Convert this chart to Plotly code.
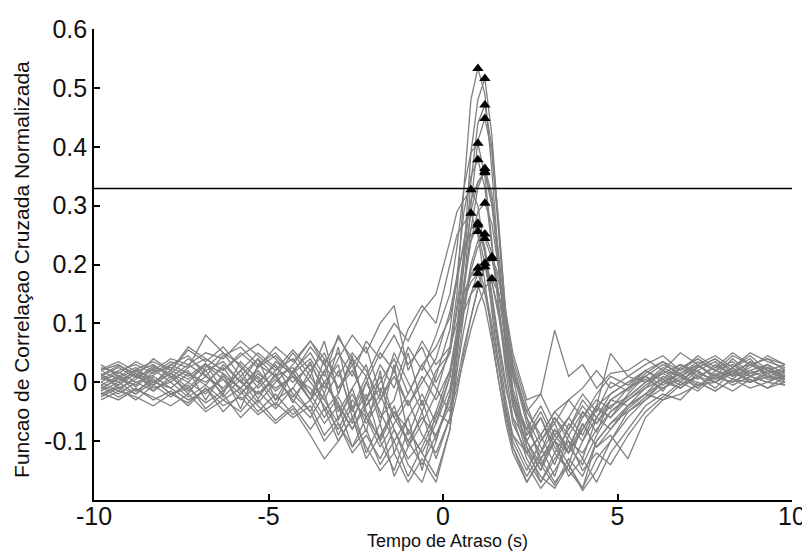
import numpy as np
import plotly.graph_objects as go

# Lag axis (s)
lags = [-9.8, -9.3, -8.8, -8.3, -7.8, -7.3, -6.8, -6.3, -5.8, -5.3, -4.8, -4.3,
        -3.8, -3.4, -3.0, -2.6, -2.2, -1.8, -1.4, -1.0, -0.6, -0.2,
        0.2, 0.4, 0.6, 0.8, 1.0, 1.2, 1.4, 1.6, 1.8, 2.0,
        2.4, 2.8, 3.2, 3.6, 4.0, 4.4, 4.8, 5.3,
        5.8, 6.3, 6.8, 7.3, 7.8, 8.3, 8.8, 9.3, 9.8]

corr_01 = [0.005, 0.012, -0.008, 0.018, 0.025,
           0.010, 0.032, -0.015, 0.020, -0.028, 0.015, -0.035,
           0.022, -0.048, -0.020, 0.045, -0.060, -0.095, -0.040, -0.110, -0.070, -0.020,
           0.060, 0.150, 0.330, 0.480, 0.533, 0.490, 0.360, 0.200, 0.060, -0.040,
           -0.120, -0.090, -0.140, -0.070, -0.100, -0.045, -0.060, -0.020,
           0.010, -0.015, 0.025, 0.005, 0.030, 0.012, 0.035, 0.008, 0.015]
corr_02 = [-0.012, 0.008, 0.020, -0.005, 0.030,
           0.045, 0.012, -0.020, 0.035, 0.005, -0.040, 0.018,
           -0.030, 0.040, -0.065, -0.010, -0.085, 0.020, -0.120, -0.060, -0.150, -0.050,
           0.020, 0.090, 0.220, 0.390, 0.480, 0.516, 0.420, 0.260, 0.120, 0.010,
           -0.100, -0.150, -0.080, -0.120, -0.050, -0.085, -0.030, -0.040,
           -0.010, 0.020, 0.000, 0.028, 0.010, 0.040, 0.015, 0.025, 0.005]
corr_03 = [0.015, -0.010, 0.005, 0.028, 0.010,
           -0.020, 0.025, 0.050, 0.010, 0.040, -0.030, -0.010,
           0.035, -0.020, 0.060, -0.045, 0.010, -0.070, 0.030, -0.090, -0.030, -0.100,
           -0.020, 0.070, 0.200, 0.340, 0.440, 0.471, 0.400, 0.270, 0.110, 0.020,
           -0.060, -0.110, -0.160, -0.090, -0.130, -0.060, -0.030, -0.010,
           0.020, 0.005, 0.030, 0.018, 0.000, 0.025, 0.045, 0.020, 0.010]
corr_04 = [-0.020, -0.005, 0.015, -0.015, 0.005,
           0.020, -0.030, 0.015, -0.045, 0.030, 0.010, 0.050,
           0.010, 0.070, -0.020, 0.040, -0.050, -0.100, -0.150, -0.080, -0.120, -0.160,
           -0.080, 0.040, 0.160, 0.300, 0.410, 0.448, 0.390, 0.250, 0.100, -0.010,
           -0.090, -0.050, -0.100, -0.140, -0.070, -0.110, -0.080, -0.045,
           -0.020, 0.010, -0.005, 0.020, 0.035, 0.010, 0.020, 0.030, 0.000]
corr_05 = [0.020, 0.030, 0.010, 0.040, 0.020,
           0.055, 0.035, 0.060, 0.025, 0.000, 0.030, -0.020,
           -0.050, 0.000, -0.035, -0.080, -0.030, 0.030, -0.010, 0.060, 0.020, 0.080,
           0.150, 0.230, 0.330, 0.390, 0.406, 0.350, 0.240, 0.120, 0.020, -0.060,
           -0.130, -0.170, -0.120, -0.150, -0.180, -0.100, -0.070, -0.050,
           -0.025, 0.000, 0.015, -0.010, 0.020, 0.005, 0.030, 0.015, 0.025]
corr_06 = [-0.008, -0.025, -0.010, -0.030, -0.015,
           -0.040, -0.010, -0.050, -0.020, 0.010, -0.030, 0.020,
           0.050, 0.010, 0.080, 0.030, 0.060, -0.020, 0.050, 0.000, -0.050, 0.010,
           0.090, 0.180, 0.290, 0.350, 0.378, 0.330, 0.230, 0.120, 0.030, -0.030,
           -0.080, -0.040, -0.090, -0.060, -0.020, -0.050, 0.000, -0.015,
           0.015, 0.035, 0.020, 0.045, 0.025, 0.050, 0.030, 0.040, 0.020]
corr_07 = [0.010, 0.000, 0.020, 0.005, -0.020,
           -0.005, -0.045, -0.020, -0.060, -0.030, -0.065, -0.040,
           -0.080, -0.045, -0.100, -0.060, -0.130, -0.090, -0.050, -0.100, -0.140, -0.090,
           -0.030, 0.050, 0.150, 0.260, 0.330, 0.363, 0.320, 0.220, 0.110, 0.030,
           -0.050, -0.020, -0.070, -0.030, -0.010, 0.020, -0.010, 0.010,
           0.000, 0.020, 0.010, -0.010, 0.015, -0.005, 0.010, 0.020, 0.005]
corr_08 = [0.025, 0.015, 0.035, 0.020, 0.040,
           0.030, 0.050, 0.040, 0.070, 0.045, 0.020, 0.055,
           0.020, 0.050, -0.010, 0.030, -0.040, 0.000, 0.040, -0.020, 0.030, 0.060,
           0.110, 0.170, 0.240, 0.310, 0.340, 0.356, 0.300, 0.200, 0.080, -0.020,
           -0.110, -0.150, -0.100, -0.060, -0.090, -0.040, -0.020, 0.000,
           0.010, 0.030, 0.015, 0.035, 0.020, 0.010, 0.025, 0.045, 0.030]
corr_09 = [-0.025, -0.010, -0.030, -0.005, -0.025,
           0.000, -0.020, 0.010, -0.010, 0.025, 0.045, 0.015,
           0.060, 0.030, 0.075, 0.040, 0.010, 0.060, 0.100, 0.070, 0.120, 0.150,
           0.240, 0.290, 0.310, 0.327, 0.300, 0.220, 0.120, 0.030, -0.050, -0.110,
           -0.160, -0.120, -0.080, -0.110, -0.060, -0.030, -0.045, -0.010,
           0.005, -0.010, 0.010, 0.000, -0.015, 0.005, 0.000, 0.015, -0.005]
corr_10 = [0.000, 0.018, 0.000, 0.012, 0.030,
           0.015, 0.000, 0.025, -0.015, -0.050, -0.020, -0.055,
           -0.030, -0.070, -0.040, -0.110, -0.080, -0.140, -0.100, -0.160, -0.110, -0.060,
           0.010, 0.080, 0.160, 0.240, 0.290, 0.304, 0.270, 0.190, 0.100, 0.020,
           -0.070, -0.130, -0.170, -0.140, -0.180, -0.130, -0.100, -0.060,
           -0.030, -0.010, 0.005, 0.020, 0.000, 0.015, 0.005, -0.010, 0.010]
corr_11 = [0.010, 0.025, 0.008, 0.022, 0.000,
           0.025, 0.080, 0.050, 0.030, -0.010, 0.020, 0.040,
           0.000, -0.030, 0.020, -0.050, 0.000, 0.050, 0.020, 0.090, 0.130, 0.100,
           0.200, 0.250, 0.270, 0.287, 0.250, 0.170, 0.080, 0.000, -0.070, -0.120,
           -0.170, -0.130, -0.090, -0.120, -0.080, -0.040, -0.060, -0.030,
           -0.010, 0.005, -0.010, 0.010, 0.000, 0.020, 0.010, 0.000, 0.012]
corr_12 = [-0.015, 0.000, -0.020, 0.010, -0.010,
           0.015, -0.005, 0.030, 0.000, 0.040, 0.010, -0.030,
           -0.060, -0.020, -0.090, -0.040, -0.120, -0.070, -0.160, -0.110, -0.050, -0.130,
           -0.060, 0.050, 0.170, 0.240, 0.267, 0.220, 0.140, 0.060, -0.010, -0.060,
           -0.100, -0.060, -0.110, -0.150, -0.100, -0.060, -0.080, -0.040,
           -0.020, -0.030, -0.005, 0.010, -0.010, 0.020, 0.000, 0.010, 0.000]
corr_13 = [0.030, 0.010, 0.025, 0.000, 0.015,
           -0.010, 0.020, -0.025, 0.005, -0.035, 0.000, 0.030,
           0.070, 0.040, 0.010, 0.050, 0.020, -0.030, 0.010, -0.040, 0.000, 0.040,
           0.120, 0.180, 0.230, 0.250, 0.256, 0.200, 0.130, 0.050, -0.030, -0.090,
           -0.140, -0.180, -0.150, -0.110, -0.140, -0.090, -0.050, -0.025,
           0.000, 0.015, 0.030, 0.010, 0.025, 0.035, 0.010, 0.030, 0.015]
corr_14 = [-0.030, -0.015, -0.025, -0.040, -0.020,
           -0.035, -0.010, -0.040, -0.025, -0.055, -0.035, -0.060,
           -0.040, -0.090, -0.060, -0.020, -0.070, -0.030, 0.020, -0.040, 0.010, -0.030,
           0.020, 0.060, 0.120, 0.190, 0.230, 0.244, 0.210, 0.150, 0.080, 0.010,
           -0.050, -0.090, -0.050, -0.030, -0.060, -0.020, 0.010, -0.005,
           0.020, 0.000, 0.025, 0.040, 0.020, 0.030, 0.010, 0.000, 0.020]
corr_15 = [0.005, 0.020, 0.030, 0.015, 0.035,
           0.025, 0.040, 0.020, 0.050, 0.025, 0.060, 0.035,
           0.070, 0.030, -0.010, 0.020, -0.030, 0.010, -0.060, -0.100, -0.060, -0.090,
           -0.040, 0.000, 0.060, 0.110, 0.160, 0.200, 0.213, 0.180, 0.120, 0.050,
           -0.030, -0.020, 0.088, 0.010, 0.030, -0.010, 0.015, 0.020,
           0.040, 0.020, 0.050, 0.030, 0.045, 0.025, 0.050, 0.035, 0.025]
corr_16 = [-0.005, -0.020, 0.000, -0.015, 0.010,
           -0.015, 0.010, -0.010, 0.020, 0.050, 0.025, 0.000,
           0.030, -0.010, 0.040, 0.080, 0.050, 0.100, 0.130, 0.020, 0.070, 0.030,
           0.060, 0.100, 0.150, 0.180, 0.200, 0.202, 0.170, 0.110, 0.040, -0.040,
           -0.100, -0.140, -0.100, -0.160, -0.130, -0.170, -0.120, -0.080,
           -0.040, -0.020, -0.030, 0.000, -0.015, 0.005, -0.010, 0.000, -0.005]
corr_17 = [0.020, 0.005, 0.015, -0.010, 0.000,
           -0.025, -0.005, -0.030, -0.050, -0.015, -0.045, -0.010,
           -0.050, -0.100, -0.070, -0.120, -0.090, -0.130, -0.080, -0.140, -0.170, -0.100,
           -0.020, 0.070, 0.150, 0.185, 0.194, 0.160, 0.100, 0.030, -0.040, -0.100,
           -0.150, -0.100, -0.060, -0.090, -0.050, -0.070, -0.030, -0.010,
           0.010, -0.005, 0.015, 0.030, 0.010, 0.000, 0.015, 0.025, 0.010]
corr_18 = [-0.010, 0.005, -0.005, 0.025, 0.015,
           0.040, 0.020, 0.035, 0.000, -0.020, 0.010, 0.025,
           -0.020, -0.060, -0.025, -0.070, 0.000, -0.050, -0.100, -0.060, -0.020, -0.070,
           0.010, 0.080, 0.140, 0.170, 0.185, 0.150, 0.090, 0.020, -0.050, -0.090,
           -0.120, -0.160, -0.180, -0.140, -0.184, -0.150, -0.100, -0.050,
           -0.030, 0.000, -0.010, 0.015, 0.005, 0.020, 0.000, 0.010, 0.005]
corr_19 = [0.012, 0.028, 0.015, 0.000, 0.020,
           0.005, 0.030, 0.015, -0.010, 0.020, -0.015, 0.010,
           -0.030, 0.000, -0.040, -0.080, -0.040, -0.010, -0.060, -0.020, 0.030, -0.010,
           -0.050, -0.010, 0.040, 0.090, 0.130, 0.160, 0.176, 0.150, 0.100, 0.040,
           -0.040, -0.100, -0.070, -0.120, -0.080, -0.040, 0.049, 0.010,
           0.030, 0.045, 0.020, 0.040, 0.020, 0.045, 0.030, 0.040, 0.030]
corr_20 = [-0.018, -0.030, -0.012, -0.025, -0.040,
           -0.020, -0.050, -0.030, -0.010, -0.040, -0.070, -0.045,
           -0.090, -0.130, -0.100, -0.060, -0.110, -0.150, -0.120, -0.170, -0.130, -0.170,
           -0.080, 0.020, 0.120, 0.150, 0.165, 0.130, 0.070, 0.000, -0.060, -0.110,
           -0.170, -0.130, -0.100, -0.120, -0.070, -0.110, -0.090, -0.130,
           -0.060, -0.030, -0.020, -0.005, 0.000, -0.015, 0.005, -0.010, 0.000]
corr_21 = [0.000, -0.015, 0.010, -0.005, 0.015,
           0.000, 0.030, 0.005, -0.030, -0.005, 0.035, 0.015,
           -0.020, 0.020, -0.050, -0.010, 0.030, -0.060, -0.030, 0.050, -0.040, 0.020,
           0.050, 0.120, 0.200, 0.290, 0.340, 0.358, 0.310, 0.190, 0.070, -0.030,
           -0.090, -0.060, -0.120, -0.080, -0.040, -0.070, -0.040, -0.025,
           0.000, 0.025, 0.010, 0.030, 0.005, 0.025, 0.040, 0.010, 0.020]
corr_22 = [0.022, 0.035, 0.018, 0.030, 0.008,
           0.030, 0.010, 0.045, 0.060, 0.030, 0.050, 0.015,
           0.040, 0.000, 0.030, -0.060, -0.020, -0.100, -0.050, -0.080, -0.120, -0.070,
           -0.010, 0.060, 0.130, 0.200, 0.240, 0.252, 0.220, 0.150, 0.060, -0.020,
           -0.080, -0.120, -0.060, -0.100, -0.120, -0.080, -0.050, -0.030,
           -0.005, 0.015, 0.000, 0.025, 0.040, 0.020, 0.030, 0.015, 0.020]
corr_23 = [-0.022, -0.008, -0.020, 0.000, -0.010,
           -0.030, -0.015, 0.005, -0.020, 0.015, -0.010, 0.010,
           -0.010, -0.040, -0.080, -0.030, -0.060, -0.110, -0.070, -0.030, -0.090, -0.120,
           -0.060, 0.020, 0.090, 0.150, 0.185, 0.196, 0.170, 0.120, 0.050, -0.030,
           -0.110, -0.170, -0.130, -0.100, -0.150, -0.120, -0.140, -0.090,
           -0.050, -0.025, 0.000, -0.015, 0.010, 0.000, 0.020, 0.005, 0.010]
corr_24 = [0.008, -0.005, 0.022, 0.035, 0.020,
           0.060, 0.040, 0.020, 0.045, 0.065, 0.040, 0.010,
           -0.030, 0.020, 0.050, 0.010, 0.070, 0.040, 0.080, 0.030, 0.060, 0.000,
           0.050, 0.130, 0.220, 0.260, 0.270, 0.230, 0.150, 0.070, 0.000, -0.070,
           -0.120, -0.090, -0.050, -0.080, -0.030, -0.060, -0.020, 0.000,
           0.020, 0.035, 0.010, 0.025, 0.040, 0.015, 0.035, 0.020, 0.030]
corr_25 = [-0.005, 0.010, -0.015, 0.005, -0.020,
           -0.010, -0.035, -0.015, 0.010, -0.020, 0.005, -0.025,
           0.010, -0.030, -0.070, -0.110, -0.060, -0.020, -0.080, -0.130, -0.100, -0.050,
           -0.070, -0.020, 0.050, 0.110, 0.160, 0.195, 0.210, 0.170, 0.110, 0.030,
           -0.060, -0.140, -0.175, -0.130, -0.160, -0.100, -0.070, -0.040,
           -0.020, 0.000, 0.015, -0.005, 0.010, 0.025, 0.000, 0.020, 0.010]

curves = [corr_01, corr_02, corr_03, corr_04, corr_05, corr_06, corr_07, corr_08,
          corr_09, corr_10, corr_11, corr_12, corr_13, corr_14, corr_15, corr_16,
          corr_17, corr_18, corr_19, corr_20, corr_21, corr_22, corr_23, corr_24,
          corr_25]

threshold = 0.329

x_ticks = [-10, -5, 0, 5, 10]
x_ticktext = ["-10", "-5", "0", "5", "10"]
y_ticks = [-0.1, 0, 0.1, 0.2, 0.3, 0.4, 0.5, 0.6]
y_ticktext = ["-0.1", "0", "0.1", "0.2", "0.3", "0.4", "0.5", "0.6"]

for c in curves:
    if len(c) != len(lags):
        raise ValueError("curve length mismatch")

fig = go.Figure()
for c in curves:
    fig.add_trace(go.Scatter(x=lags, y=c, mode="lines",
                             line=dict(color="rgb(128,128,128)", width=1.3),
                             showlegend=False, hoverinfo="skip"))

lag_arr = np.array(lags)
peak_x = [float(lag_arr[int(np.argmax(c))]) for c in curves]
peak_y = [float(np.max(c)) for c in curves]
fig.add_trace(go.Scatter(x=peak_x, y=peak_y, mode="markers",
                         marker=dict(symbol="triangle-up", size=10, color="black"),
                         showlegend=False))

fig.add_hline(y=threshold, line=dict(color="black", width=1.6))

# The page body adds an 8 px offset, so the figure is 8 px smaller on each side.
font_family = "Liberation Sans, Arial, sans-serif"
fig.update_layout(
    width=802, height=545,
    margin=dict(l=86, r=18, t=21, b=53, autoexpand=False),
    paper_bgcolor="white", plot_bgcolor="white",
    font=dict(family=font_family, color="#111"),
    xaxis=dict(range=[-10, 10], tickvals=x_ticks, ticktext=x_ticktext,
               ticks="inside", ticklen=6, tickwidth=1.5, tickcolor="black",
               showline=True, linecolor="black", linewidth=1.6,
               showgrid=False, zeroline=False, automargin=False,
               ticklabelstandoff=-7,
               tickfont=dict(size=25, family=font_family, color="#111")),
    yaxis=dict(range=[-0.2, 0.6], tickvals=y_ticks, ticktext=y_ticktext,
               ticks="inside", ticklen=6, tickwidth=1.5, tickcolor="black",
               showline=True, linecolor="black", linewidth=1.6,
               showgrid=False, zeroline=False, automargin=False,
               tickfont=dict(size=25, family=font_family, color="#111")),
    annotations=[
        dict(text="Tempo de Atraso (s)", xref="paper", yref="paper",
             x=0.507, y=-0.088, xanchor="center", yanchor="middle",
             showarrow=False, font=dict(size=18, family=font_family, color="#111")),
        dict(text="Funcao de Correlaçao Cruzada Normalizada", xref="paper", yref="paper",
             x=-0.105, y=0.49, xanchor="center", yanchor="middle", textangle=-90,
             showarrow=False, font=dict(size=21, family=font_family, color="#111")),
    ],
)

fig.write_html("out.html")
